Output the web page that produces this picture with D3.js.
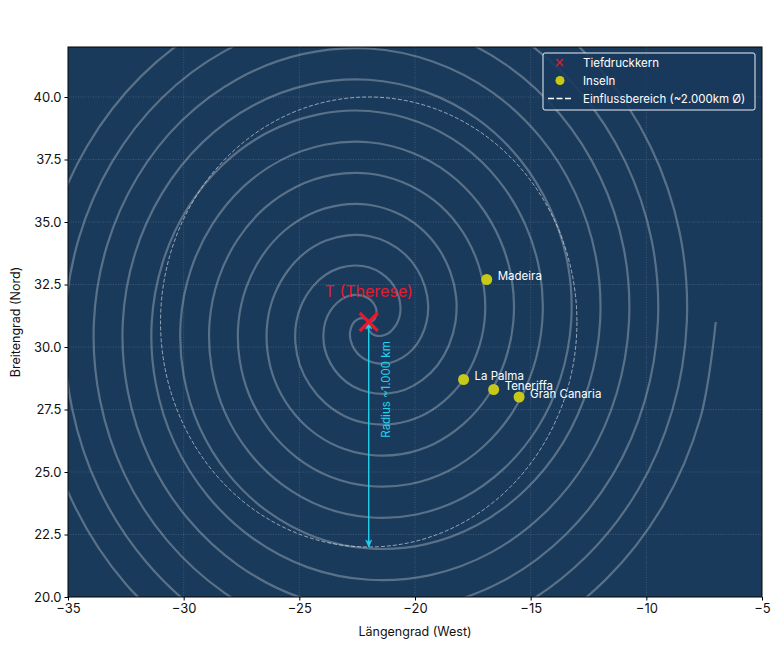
<!DOCTYPE html>
<html>
<head>
<meta charset="utf-8">
<script src="https://cdn.jsdelivr.net/npm/d3@7"></script>
<style>
	html, body { margin: 0; padding: 0; background: #fff; }
	svg { display: block; }
	text { font-family: Inter, "Noto Sans", sans-serif; }
</style>
</head>
<body>
<div id="chart"></div>
<script>
// values
var xTicks = [-35, -30, -25, -20, -15, -10, -5];
var yTicks = [20, 22.5, 25, 27.5, 30, 32.5, 35, 37.5, 40];

var lowCenter = [-22, 31];
var influenceRadius = 9; // degrees
var arrowEnd = [-22, 22];

var islandNames = ["Madeira", "La Palma", "Teneriffa", "Gran Canaria"];
var islandLon = [-16.9, -17.9, -16.6, -15.5];
var islandLat = [32.7, 28.7, 28.3, 28.0];

// the swirl has three arms, same shape, turned against each other
var armOffsets = [0, 120, 240];
// one arm in polar form around the centre (degrees, degrees of lat/lon)
var armAngle = [0, 15, 30, 45, 60, 75, 90, 105, 120, 135, 150, 165,
	180, 195, 210, 225, 240, 255, 270, 285, 300, 315, 330, 345,
	360, 375, 390, 405, 420, 435, 450, 465, 480, 495, 510, 525,
	540, 555, 570, 585, 600, 615, 630, 645, 660, 675, 690, 705,
	720, 735, 750, 765, 780, 795, 810, 825, 840, 855, 870, 885,
	900, 915, 930, 945, 960, 975, 990, 1005, 1020, 1035, 1050, 1065,
	1080, 1095, 1110, 1125, 1140, 1155, 1170, 1185, 1200, 1215, 1230, 1245,
	1260, 1275, 1290, 1305, 1320, 1335, 1350, 1365, 1380, 1395, 1410, 1425,
	1440];
var armRadius = [0, 0.16, 0.31, 0.47, 0.63, 0.78, 0.94, 1.09, 1.25, 1.41, 1.56, 1.72,
	1.88, 2.03, 2.19, 2.34, 2.5, 2.66, 2.81, 2.97, 3.13, 3.28, 3.44, 3.59,
	3.75, 3.91, 4.06, 4.22, 4.38, 4.53, 4.69, 4.84, 5, 5.16, 5.31, 5.47,
	5.63, 5.78, 5.94, 6.09, 6.25, 6.41, 6.56, 6.72, 6.88, 7.03, 7.19, 7.34,
	7.5, 7.66, 7.81, 7.97, 8.13, 8.28, 8.44, 8.59, 8.75, 8.91, 9.06, 9.22,
	9.38, 9.53, 9.69, 9.84, 10, 10.16, 10.31, 10.47, 10.63, 10.78, 10.94, 11.09,
	11.25, 11.41, 11.56, 11.72, 11.88, 12.03, 12.19, 12.34, 12.5, 12.66, 12.81, 12.97,
	13.13, 13.28, 13.44, 13.59, 13.75, 13.91, 14.06, 14.22, 14.38, 14.53, 14.69, 14.84,
	15];

var legendLabels = ["Tiefdruckkern", "Inseln", "Einflussbereich (~2.000km Ø)"];

function drawChart() {
	let margin = { top: 47, right: 15, bottom: 50, left: 68 };
	let full_width = 777;
	let full_height = 647;
	let width = full_width - margin.left - margin.right;
	let height = full_height - margin.top - margin.bottom;

	let bg = "#1a3a5c";
	let cyan = "#22d3ee";
	let red = "#e8192c";
	let yellow = "#c8c817";

	var svg = d3.select("#chart")
		.append("svg")
		.attr("width", full_width)
		.attr("height", full_height)
		.attr("viewBox", [0, 0, full_width, full_height]);

	var x = d3.scaleLinear().domain([-35, -5]).range([0, width]);
	var y = d3.scaleLinear().domain([20, 42]).range([height, 0]);

	svg.append("defs").append("clipPath").attr("id", "plot")
		.append("rect").attr("width", width).attr("height", height);

	var g = svg.append("g").attr("transform", `translate(${margin.left},${margin.top})`);

	g.append("rect").attr("width", width).attr("height", height).attr("fill", bg);

	// grid
	var grid = g.append("g").attr("clip-path", "url(#plot)")
		.attr("stroke", "#fff").attr("stroke-opacity", 0.2)
		.attr("stroke-width", 0.8).attr("stroke-dasharray", "1 1.5");
	grid.selectAll(".gx").data(xTicks).enter().append("line")
		.attr("x1", d => x(d)).attr("x2", d => x(d)).attr("y1", 0).attr("y2", height);
	grid.selectAll(".gy").data(yTicks).enter().append("line")
		.attr("y1", d => y(d)).attr("y2", d => y(d)).attr("x1", 0).attr("x2", width);

	var plot = g.append("g").attr("clip-path", "url(#plot)");

	// spiral arms
	var rad = Math.PI / 180;
	armOffsets.forEach(function (offset) {
		var line = d3.line()
			.x(i => x(lowCenter[0] + armRadius[i] * Math.cos((armAngle[i] + offset) * rad)))
			.y(i => y(lowCenter[1] + armRadius[i] * Math.sin((armAngle[i] + offset) * rad)))
			.curve(d3.curveCatmullRom.alpha(0.5));
		plot.append("path")
			.attr("d", line(d3.range(armAngle.length)))
			.attr("fill", "none")
			.attr("stroke", "#fff")
			.attr("stroke-opacity", 0.28)
			.attr("stroke-width", 2.2);
	});

	// influence circle
	plot.append("ellipse")
		.attr("cx", x(lowCenter[0]))
		.attr("cy", y(lowCenter[1]))
		.attr("rx", x(lowCenter[0] + influenceRadius) - x(lowCenter[0]))
		.attr("ry", y(lowCenter[1] - influenceRadius) - y(lowCenter[1]))
		.attr("fill", "none")
		.attr("stroke", "#fff")
		.attr("stroke-opacity", 0.55)
		.attr("stroke-width", 1)
		.attr("stroke-dasharray", "4 2");

	// radius arrow
	let ax = x(arrowEnd[0]), ay = y(arrowEnd[1]);
	let cx = x(lowCenter[0]), cy = y(lowCenter[1]);
	plot.append("line")
		.attr("x1", cx).attr("y1", cy)
		.attr("x2", ax).attr("y2", ay)
		.attr("stroke", cyan).attr("stroke-width", 1.4);
	plot.append("path")
		.attr("d", `M${ax - 3},${ay - 7}L${ax},${ay}L${ax + 3},${ay - 7}L${ax},${ay - 5}Z`)
		.attr("fill", cyan).attr("stroke", cyan).attr("stroke-width", 0.6);
	plot.append("path")
		.attr("d", `M${ax - 3},${cy + 7}L${ax},${cy}L${ax + 3},${cy + 7}L${ax},${cy + 5}Z`)
		.attr("fill", cyan).attr("stroke", cyan).attr("stroke-width", 0.6);
	g.append("text")
		.attr("transform", `translate(${ax + 17},${y(28.3)}) rotate(-90)`)
		.attr("text-anchor", "middle")
		.attr("dominant-baseline", "central")
		.attr("fill", cyan)
		.style("font-size", "11.5px")
		.text("Radius ~1.000 km");

	// centre marker
	plot.append("path")
		.attr("d", `M${cx - 9},${cy - 9}L${cx + 9},${cy + 9}M${cx - 9},${cy + 9}L${cx + 9},${cy - 9}`)
		.attr("stroke", red).attr("stroke-width", 3.2).attr("fill", "none");
	g.append("text")
		.attr("x", cx)
		.attr("y", cy - 25)
		.attr("text-anchor", "middle")
		.attr("fill", red)
		.style("font-size", "16px")
		.text("T (Therese)");

	// islands
	var isl = d3.range(islandNames.length);
	plot.selectAll(".island").data(isl).enter().append("circle")
		.attr("cx", d => x(islandLon[d]))
		.attr("cy", d => y(islandLat[d]))
		.attr("r", 5.5)
		.attr("fill", yellow);
	g.selectAll(".islandLabel").data(isl).enter().append("text")
		.attr("x", d => x(islandLon[d]) + 11)
		.attr("y", d => y(islandLat[d]) + 0.5)
		.attr("fill", "#fff")
		.style("font-size", "11.5px")
		.text(d => islandNames[d]);

	// spines + axes
	g.append("rect").attr("width", width).attr("height", height)
		.attr("fill", "none").attr("stroke", "#000").attr("stroke-width", 1);

	var xAxis = d3.axisBottom(x).tickValues(xTicks).tickSize(3.5).tickPadding(3)
		.tickFormat(d => String(d).replace("-", "\u2212"));
	var yAxis = d3.axisLeft(y).tickValues(yTicks).tickSize(3.5).tickPadding(3)
		.tickFormat(d3.format(".1f"));
	var gx = g.append("g").attr("transform", `translate(0,${height})`).call(xAxis);
	var gy = g.append("g").call(yAxis);
	gx.select(".domain").remove();
	gy.select(".domain").remove();
	g.selectAll(".tick text").style("font-size", "13px").style("font-family", "Inter, sans-serif").attr("fill", "#111");

	g.append("text")
		.attr("x", width / 2).attr("y", height + 39)
		.attr("text-anchor", "middle")
		.attr("fill", "#111")
		.style("font-size", "12.5px")
		.text("Längengrad (West)");
	g.append("text")
		.attr("transform", `translate(-48,${height / 2}) rotate(-90)`)
		.attr("text-anchor", "middle")
		.attr("fill", "#111")
		.style("font-size", "12.5px")
		.text("Breitengrad (Nord)");

	// legend
	var lg = g.append("g").attr("transform", `translate(${width - 219},6)`);
	lg.append("rect")
		.attr("width", 212).attr("height", 57).attr("rx", 2)
		.attr("fill", bg).attr("fill-opacity", 0.9)
		.attr("stroke", "#e8eef5").attr("stroke-width", 1);
	lg.selectAll("text").data(legendLabels).enter().append("text")
		.attr("x", 40)
		.attr("y", (d, i) => 9.5 + i * 18)
		.attr("dominant-baseline", "central")
		.attr("fill", "#fff")
		.style("font-size", "11.5px")
		.text(d => d);
	lg.append("path")
		.attr("d", "M13.5,6L20,13M13.5,13L20,6")
		.attr("stroke", red).attr("stroke-width", 1.5);
	lg.append("circle").attr("cx", 17).attr("cy", 27.5).attr("r", 4.5).attr("fill", yellow);
	lg.append("line")
		.attr("x1", 5).attr("x2", 29).attr("y1", 45.5).attr("y2", 45.5)
		.attr("stroke", "#fff").attr("stroke-width", 1.6).attr("stroke-dasharray", "6 2.5");
}

drawChart();
</script>
</body>
</html>
